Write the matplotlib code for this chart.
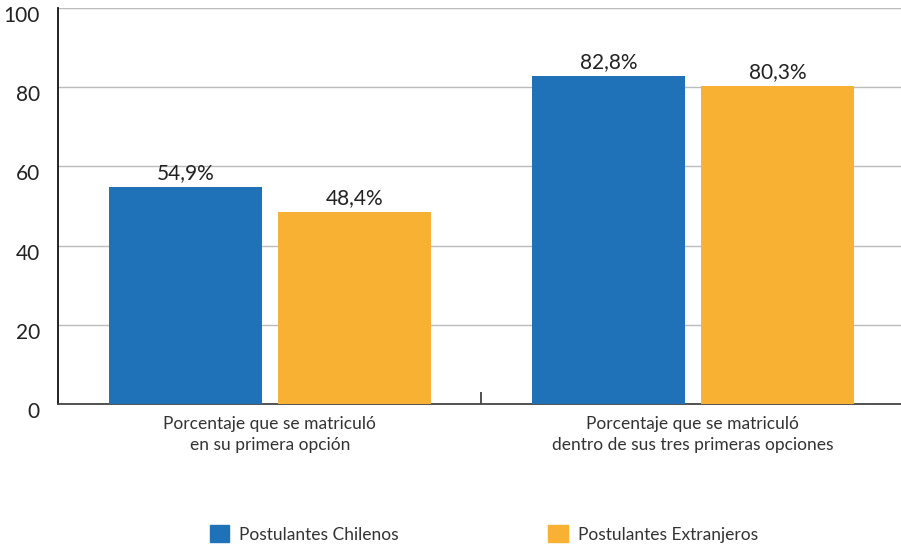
import matplotlib
matplotlib.use("Agg")
import matplotlib.pyplot as plt
import matplotlib.transforms as mtransforms
import numpy as np
from matplotlib.patches import Patch

categories = ["Porcentaje que se matriculó\nen su primera opción",
              "Porcentaje que se matriculó\ndentro de sus tres primeras opciones"]
series_names = ["Postulantes Chilenos", "Postulantes Extranjeros"]
chilenos = [54.9, 82.8]
extranjeros = [48.4, 80.3]
yticks = [0, 20, 40, 60, 80, 100]

colors = ["#1f72b8", "#f8b133"]
plt.rcParams['font.family'] = ['Lato', 'DejaVu Sans']

fig = plt.figure(figsize=(9.01, 5.48), dpi=100)
ax = fig.add_axes([58/901, 1-404/548, 1-58/901, (404-8)/548])

x = np.arange(len(categories))
w = 0.362
off = 0.2
for vals, c, o in [(chilenos, colors[0], -off), (extranjeros, colors[1], off)]:
    bars = ax.bar(x + o, vals, width=w, color=c, zorder=3)
    for b, v in zip(bars, vals):
        ax.text(b.get_x() + b.get_width()/2, v + 1.0, f"{v:.1f}%".replace(".", ","),
                ha="center", va="bottom", fontsize=15, color="#222222")

ax.set_xlim(-0.501, 1.492)
ax.set_ylim(0, 100)
ax.set_yticks(yticks)
ax.set_yticklabels([str(t) for t in yticks], fontsize=15, color="#222222")
ax.tick_params(axis="y", length=0, pad=13)
shift = mtransforms.ScaledTranslation(0, -6/100, fig.dpi_scale_trans)
for lbl in ax.get_yticklabels():
    lbl.set_transform(lbl.get_transform() + shift)
ax.set_xticks(x)
ax.set_xticklabels(categories, fontsize=12.5, color="#333333", linespacing=1.35)
ax.tick_params(axis="x", length=0, pad=9)
ax.set_xticks([0.5], minor=True)
ax.tick_params(axis="x", which="minor", direction="in", length=9, width=1.2, color="#333333")

ax.grid(axis="y", color="#bbbbbb", linewidth=1, zorder=0)
for s in ["top", "right"]:
    ax.spines[s].set_visible(False)
ax.spines["left"].set_color("#111111")
ax.spines["left"].set_linewidth(1.3)
ax.spines["bottom"].set_color("#444444")
ax.spines["bottom"].set_linewidth(1.3)

handles = [Patch(color=colors[0]), Patch(color=colors[1])]
fig.legend(handles, series_names, ncol=2, loc="center", bbox_to_anchor=(484/901, 1-534/548),
           frameon=False, fontsize=12.5, handlelength=1.1, handleheight=1.1,
           handletextpad=0.6, columnspacing=8.6, labelcolor="#333333")

fig.savefig("out.png", dpi=100)
